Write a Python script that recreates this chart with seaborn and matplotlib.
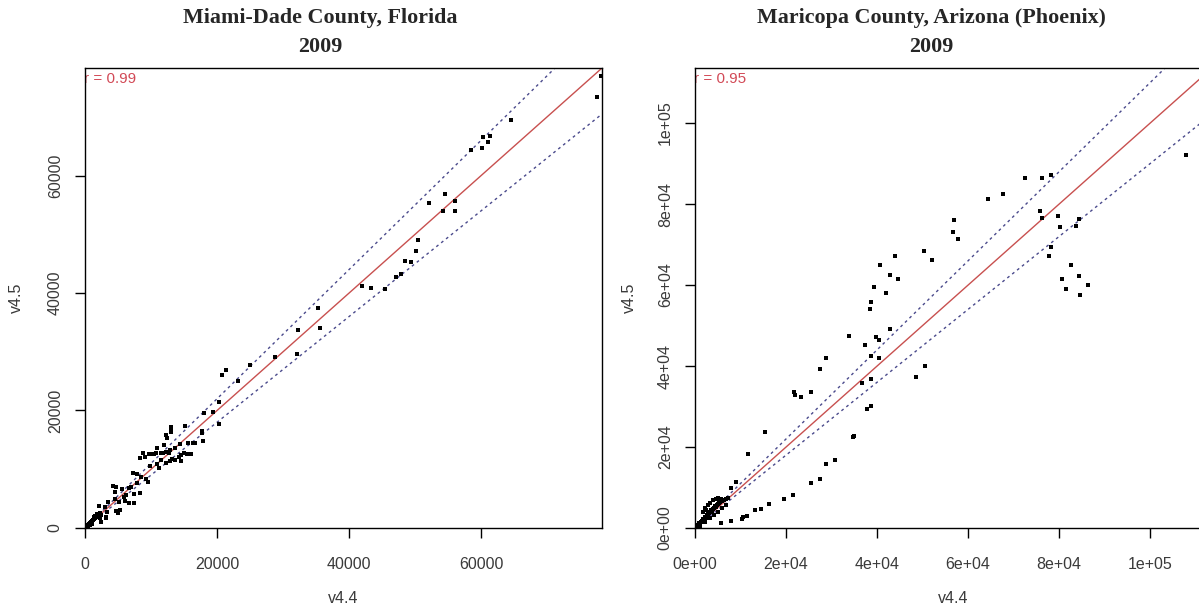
import numpy as np
import matplotlib
matplotlib.use("Agg")
import matplotlib.pyplot as plt
from matplotlib.ticker import FuncFormatter
import seaborn as sns

# Miami-Dade County, Florida (v4.4 vs v4.5)
miami_v44 = [78170, 77570, 64540, 60300, 61360, 58480, 60150, 61050, 54540, 52120,
             56060, 54240, 56060, 50450, 50150, 48480, 49390, 47120, 47870, 41970,
             43330, 45450, 35300, 35600, 32270, 32120, 28790, 25000, 23180, 21360,
             20760, 20300, 20300, 19390, 18030, 17730, 15150, 13030, 13030, 13030,
             12270, 12420, 16360, 16670, 15600, 17730, 17880, 14390, 13640, 12880,
             12730, 12270, 11820, 11510, 10760, 10450, 10150, 9700, 9090, 8790,
             8330, 10910, 11970, 15000, 15450, 16060, 14540, 14240, 13180, 13640,
             14540, 12880, 11510, 10910, 12270, 11210, 9850, 7270, 7880, 8480,
             9240, 7880, 9540, 8330, 7420, 6970, 5910, 6670, 7420, 5610,
             4700, 4240, 4550, 6670, 6210, 6060, 5150, 5300, 5000, 4700,
             4550, 3480, 3030, 2120, 3330, 2270, 3180, 2420, 3180,
             150, 300, 450, 610, 760, 910, 1060, 1210, 1360, 1520,
             1670, 1820, 1970, 2120, 450, 760, 1060, 1520, 1360, 1820,
             2270, 2420]
miami_v45 = [76900, 73320, 69390, 66500, 66670, 64280, 64620, 65640, 56780, 55240,
             55580, 53880, 53880, 49100, 47230, 45520, 45350, 42800, 43310, 41260,
             40920, 40750, 37510, 34100, 33760, 29670, 29160, 27790, 25060, 26940,
             26090, 21480, 17730, 19780, 19610, 16540, 17390, 17220, 16710, 16370,
             15860, 15350, 14490, 14490, 14540, 16200, 14830, 14320, 13640, 13300,
             12790, 12960, 12790, 12790, 12790, 12620, 12620, 12620, 12110, 12790,
             11940, 13640, 14150, 12790, 12620, 12620, 12450, 12110, 11760, 11590,
             11420, 11420, 11590, 10910, 11080, 10230, 10570, 9380, 9210, 8700,
             8350, 7670, 7840, 5970, 5800, 6990, 5290, 4260, 4260, 6650,
             6990, 7160, 6140, 6820, 5630, 4600, 4430, 3070, 2560, 2900,
             4940, 4430, 3580, 3750, 2730, 1710, 1710, 1020, 1880,
             170, 340, 510, 680, 850, 1020, 1190, 1360, 1530, 1710,
             1880, 2050, 2220, 2390, 170, 510, 680, 2050, 1880, 2390,
             2560, 2220]

# Maricopa County, Arizona (Phoenix)
phoenix_v44 = [107930, 72440, 76240, 78210, 67760, 64310, 75880, 76240, 79680, 80270,
               83700, 84290, 78210, 77700, 82600, 80560, 84360, 86420, 81430, 84660,
               57000, 56700, 57880, 50330, 52090, 43970, 40670, 42740, 44490, 39220,
               41920, 38630, 38350, 42740, 33740, 39800, 40390, 37250, 38630, 40390,
               28750, 27440, 50550, 48580, 38630, 36590, 38700, 37820, 34620, 34900,
               25530, 21800, 22020, 23200, 15370, 11570, 30800, 28750, 27370, 25530,
               21440, 19470, 16310, 14550, 13170, 11350, 10470, 10320, 7840, 5770,
               9070, 7840,
               220, 440, 660, 880, 1100, 1320, 1540, 1760, 1980, 2200,
               2410, 2630, 2850, 3070, 3290, 3510, 3730, 3950, 4170, 4390,
               4610, 4830, 5050, 5270, 5490, 5930, 6370, 6800, 7240,
               1760, 2200, 2850, 3290, 3950, 4610, 5050, 5710, 2410,
               1100, 2200, 3290, 4170, 5050, 5930, 6800]
phoenix_v45 = [92020, 86420, 86420, 87080, 82540, 81150, 78270, 76540, 76960, 74320,
               74640, 76290, 69450, 67080, 64860, 61550, 62220, 59920, 59010, 57600,
               75970, 73010, 71350, 68470, 66170, 67080, 64860, 62540, 61550, 59580,
               57950, 55730, 54070, 49130, 47480, 47160, 46490, 45180, 42540, 41900,
               41900, 39260, 40000, 37360, 36790, 35870, 30200, 29460, 22540, 22710,
               33500, 33500, 32840, 32420, 23630, 18270, 16710, 15730, 12170, 11180,
               8220, 7230, 5930, 4690, 4370, 3040, 2720, 2150, 1730, 1310,
               11430, 9800,
               250, 490, 740, 1230, 990, 1480, 1730, 2220, 1980, 2720,
               2470, 3210, 3460, 3700, 3950, 4440, 4200, 4690, 4940, 5430,
               5190, 5680, 5930, 6170, 6420, 6670, 6910, 7160, 7410,
               3950, 4940, 5680, 6170, 6910, 7160, 7410, 7160, 4440,
               490, 1480, 2470, 3210, 3950, 4940, 5680]

titles = ["Miami-Dade County, Florida", "Maricopa County, Arizona (Phoenix)"]
year = "2009"
r_labels = ["r = 0.99", "r = 0.95"]
ref_slopes = [1.1, 1.0, 0.9]
limits = [78300, 113600]
ticks = [[0, 20000, 40000, 60000], [0, 20000, 40000, 60000, 80000, 100000]]

sns.set_theme(style="ticks")
plt.rcParams['font.family'] = ['Liberation Sans', 'DejaVu Sans']

fig = plt.figure(figsize=(11.99, 6.05), dpi=100)
ax_pos = [[0.0709, 0.1273, 0.4312, 0.7603], [0.5797, 0.1273, 0.4312, 0.7603]]
title_x = [320 / 1199, 931 / 1199]
ylabel_x = [-0.118, -0.112]

data = [(miami_v44, miami_v45), (phoenix_v44, phoenix_v45)]
formatters = [FuncFormatter(lambda v, p: f"{v:.0f}"),
              FuncFormatter(lambda v, p: f"{v:.0e}")]

for i in range(2):
    ax = fig.add_axes(ax_pos[i])
    xs, ys = data[i]
    for k in ref_slopes:
        if k == 1.0:
            ax.axline((0, 0), slope=k, color="#c8504f", lw=1.0, zorder=2)
        else:
            ax.axline((0, 0), slope=k, color="#4a4a8c", lw=1.0,
                      linestyle=(0, (2, 2.5)), zorder=2)
    sns.scatterplot(x=xs, y=ys, ax=ax, color="black", s=9, marker="s",
                    linewidth=0, zorder=3)
    ax.set_xlim(0, limits[i])
    ax.set_ylim(0, limits[i])
    ax.set_xticks(ticks[i])
    ax.set_yticks(ticks[i])
    ax.xaxis.set_major_formatter(formatters[i])
    ax.yaxis.set_major_formatter(formatters[i])
    ax.tick_params(axis="both", direction="out", length=7, width=1.0,
                   color="black", labelsize=11.5, labelcolor="#3a3a3a")
    ax.tick_params(axis="x", pad=14)
    ax.tick_params(axis="y", pad=9)
    for lab in ax.get_yticklabels():
        lab.set_rotation(90)
        lab.set_va("center")
    for sp in ax.spines.values():
        sp.set_visible(True)
        sp.set_color("black")
        sp.set_linewidth(1.0)
    ax.set_xlabel("v4.4", fontsize=11.5, color="#3a3a3a")
    ax.set_ylabel("v4.5", fontsize=11.5, color="#3a3a3a")
    ax.xaxis.set_label_coords(0.5, -0.137)
    ax.yaxis.set_label_coords(ylabel_x[i], 0.5)
    ax.text(-0.002, 0.976, r_labels[i], transform=ax.transAxes, color="#d24a57",
            fontsize=11, ha="left", va="center", clip_on=True, zorder=1)
    fig.text(title_x[i], 1 - 18 / 605, titles[i], ha="center", va="center",
             fontsize=15.8, fontweight="bold", family="Liberation Serif")
    fig.text(title_x[i], 1 - 47 / 605, year, ha="center", va="center",
             fontsize=15.8, fontweight="bold", family="Liberation Serif")

fig.savefig("out.png", dpi=100, facecolor="white")
